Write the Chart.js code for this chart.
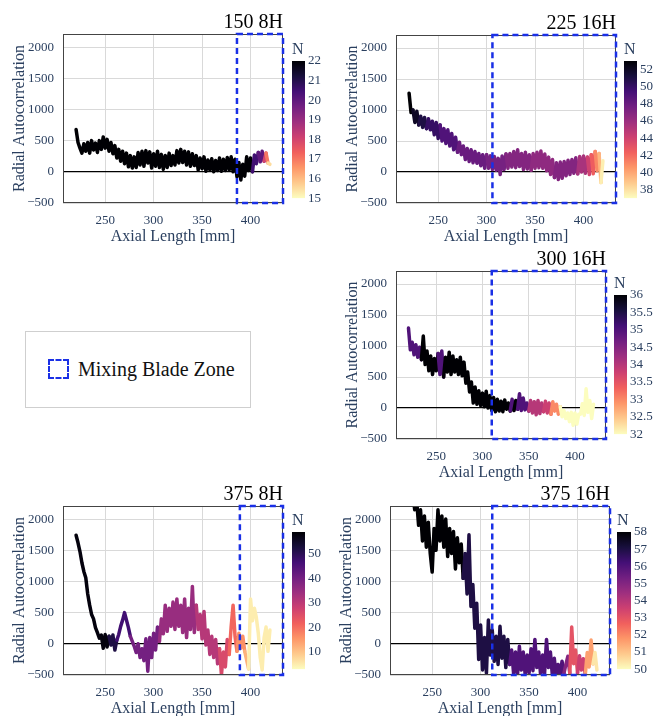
<!DOCTYPE html>
<html>
<head>
<meta charset="utf-8">
<script src="https://cdn.jsdelivr.net/npm/chart.js@4.4.1/dist/chart.umd.min.js"></script>
<style>
body{margin:0;background:#fff;width:656px;height:716px;overflow:hidden;position:relative;font-family:'Liberation Serif','Times New Roman',serif}
#legend{position:absolute;left:25px;top:331px;width:224px;height:75px;border:1px solid #cfcfcf;background:#fff}
#swatch{position:absolute;left:22px;top:27px;width:17px;height:16px;border:2px dashed #1a30e6}
#legendText{position:absolute;left:52px;top:25px;font-size:20px;line-height:24px;color:#111;white-space:nowrap}
</style>
</head>
<body>

<div id="legend"><span id="swatch"></span><span id="legendText">Mixing Blade Zone</span></div>

<script>

// axial sample positions [mm], shared by every run
const axial=[220,222,224,226,228,230,232,234,236,238,
240,242,244,246,248,250,252,254,256,258,
260,262,264,266,268,270,272,274,276,278,
280,282,284,286,288,290,292,294,296,298,
300,302,304,306,308,310,312,314,316,318,
320,322,324,326,328,330,332,334,336,338,
340,342,344,346,348,350,352,354,356,358,
360,362,364,366,368,370,372,374,376,378,
380,382,384,386,388,390,392,394,396,398,
400,402,404,406,408,410,412,414,416,418,
420]

// radial autocorrelation per run
const corr150_8H=[680,470,380,300,450,330,470,300,500,350,
460,310,500,360,560,380,520,330,470,290,
420,220,360,170,330,130,300,80,260,60,
240,70,310,110,330,90,340,140,320,60,
290,90,330,70,280,40,260,70,300,100,
260,110,340,140,360,150,330,110,320,90,
290,100,260,30,220,50,240,10,190,30,
210,0,180,20,220,10,200,20,230,30,
240,0,200,-80,150,-130,120,-70,240,20,
220,0,270,130,310,160,330,170,300,140,
120]

const corr225_16H=[1270,960,1000,800,980,760,900,720,880,700,
860,680,820,600,800,540,760,500,700,460,
680,420,620,360,560,320,480,280,420,200,
380,170,360,150,330,140,300,100,280,60,
280,60,260,40,250,30,220,-40,260,40,
290,60,300,80,330,70,360,90,300,40,
320,50,280,30,300,60,320,70,340,60,
290,20,240,-40,200,-90,150,-120,160,-100,
170,-60,190,-40,200,-20,230,-30,250,0,
260,-20,240,-40,280,-30,330,20,300,-170,
180]

const corr300_16H=[1290,940,1060,860,1020,820,980,780,1160,700,
920,600,840,540,800,600,880,540,920,500,
820,580,900,540,840,580,780,540,820,520,
740,400,580,260,420,80,340,60,280,40,
240,20,270,0,200,-40,170,-60,140,-50,
110,-60,130,-20,80,-50,140,-40,120,-20,
230,-40,160,-30,80,-50,120,-80,100,-110,
120,-90,80,-60,110,-80,80,-100,100,-50,
60,-100,20,-140,-40,-170,-80,-220,-70,-280,
-80,-260,-100,-100,70,-120,310,-70,120,-170,
60]

const corr375_8H=[1740,1620,1480,1300,1160,1060,800,620,470,400,
260,180,90,140,-70,150,-50,120,-20,140,
-100,60,150,280,380,500,380,260,120,40,
-40,-140,0,-220,-80,-270,80,-440,100,-220,
170,-100,270,40,400,160,620,200,570,280,
670,230,720,280,620,180,720,100,570,230,
920,180,620,230,470,80,520,-20,220,-170,
120,-220,70,-320,-80,-500,-130,-370,70,-170,
270,620,120,-120,170,-70,120,-120,-260,-400,
720,370,570,420,170,-220,-420,100,270,-120,
220]

const corr375_16H=[2600,2500,2450,2500,2350,2400,2150,2300,1900,2150,
1650,2050,1550,1950,1450,1150,1850,1500,2150,1650,
2050,1550,2000,1400,1850,1450,1800,1200,1700,1300,
1600,1050,1450,800,1750,600,950,250,650,-250,
300,-420,100,-470,380,-180,220,-280,120,-330,
280,-230,120,-380,70,-330,-100,-470,-130,-520,
-40,-420,-130,-500,-180,-470,-80,-430,70,-380,
-130,-520,-180,-470,70,-380,-130,-500,-230,-520,
-330,-500,-280,-470,-330,-200,-470,270,-320,-100,
-470,-190,-420,-240,-500,-140,-370,60,-320,-140,
-420]

// N along the axis: [axial position where it starts, N]
const n150_8H=[[220,22],[402,20.5],[408,20],[414,18],[416,17],[418,15.5]]
const n225_16H=[[220,53],[224,52],[230,51],[238,50],[252,49],[270,48],[300,47.5],[320,47],[345,46.5],[370,47],[394,45.5],[403,44],[408,42.5],[412,41],[415,39.5],[417,37.5]]
const n300_16H=[[220,35],[234,36],[252,35],[258,36],[329,35],[334,36],[338,35],[349,34],[365,33.8],[374,33],[383,32]]
const n375_8H=[[220,58],[254,52],[261,47],[276,40],[306,35],[344,31],[368,26],[377,21],[385,16],[394,12],[398,5]]
const n375_16H=[[220,58],[281,57],[330,56],[386,55],[391,53],[399,53.6],[408,51.6],[415,50.4]]

// colour bar ranges and ticks
const nRange=[[15,22],[37,53],[32,36],[3,59],[50,58]]
const nTicks150_8H=[15,16,17,18,19,20,21,22]
const nTicks225_16H=[38,40,42,44,46,48,50,52]
const nTicks300_16H=[32,32.5,33,33.5,34,34.5,35,35.5,36]
const nTicks375_8H=[10,20,30,40,50]
const nTicks375_16H=[50,51,52,53,54,55,56,57,58]

// start of the mixing blade zone [mm]
const zoneStart=[386,306,310,389,312]

const xTicks=[250,300,350,400]
const yTicks=[-500,0,500,1000,1500,2000]


const serif="'Liberation Serif','Times New Roman',serif"
const axisInk="#2a3f5f"
const gridInk="#d9d9d9"
const magma=["#000004","#180f3d","#440f76","#721f81","#9e2f7f","#cd4071","#f1605d","#fd9668","#feca8d","#fcfdbf"]

Chart.defaults.font.family=serif


function hexRgb(h){
return [1,3,5].map(i=>parseInt(h.slice(i,i+2),16))
}

// f=0 gives black (largest N), f=1 gives pale yellow (smallest N)
function magmaAt(f){
f=Math.max(0,Math.min(1,f))
const p=f*(magma.length-1)
const i=Math.min(Math.floor(p),magma.length-2)
const t=p-i
const a=hexRgb(magma[i]),b=hexRgb(magma[i+1])
const c=a.map((v,k)=>Math.round(v+(b[k]-v)*t))
return `rgb(${c[0]},${c[1]},${c[2]})`
}

function colorForN(steps,range,x){
let n=steps[0][1]
steps.forEach(s=>{ if(x>=s[0]) n=s[1] })
return magmaAt((range[1]-n)/(range[1]-range[0]))
}

function addCanvas(left,top,w,h){
const c=document.createElement("canvas")
c.width=w
c.height=h
c.style.cssText=`position:absolute;left:${left}px;top:${top}px;width:${w}px;height:${h}px`
document.body.appendChild(c)
return c
}


// plot frame + dashed blade zone
const panelChrome={
id:"panelChrome",
afterDatasetsDraw(chart,args,opts){
const a=chart.chartArea
const ctx=chart.ctx
ctx.save()
ctx.strokeStyle="#444"
ctx.lineWidth=1
ctx.strokeRect(a.left+0.5,a.top+0.5,a.width-1,a.height-1)
const x1=chart.scales.x.getPixelForValue(opts.zone)
ctx.strokeStyle="#1a30e6"
ctx.lineWidth=2.5
ctx.setLineDash([6,4])
ctx.strokeRect(x1,a.top,a.right-x1,a.bottom-a.top)
ctx.restore()
}
}


function drawPanel(p){

const cv=addCanvas(p.left-63,p.top-34,p.right-p.left+65,p.bottom-p.top+79)

new Chart(cv,{

type:"line",

data:{
datasets:[{
data:axial.map((x,i)=>({x:x,y:p.corr[i]})),
borderColor:"#000",
borderWidth:3.5,
pointRadius:0,
borderJoinStyle:"round",
borderCapStyle:"round",
clip:0,
segment:{
borderColor:ctx=>colorForN(p.steps,p.range,ctx.p0.parsed.x)
}
}]
},

options:{
responsive:false,
animation:false,
layout:{padding:{left:0,right:2,top:0,bottom:0}},
plugins:{
legend:{display:false},
tooltip:{enabled:false},
title:{
display:true,
text:p.title,
align:"end",
fullSize:false,
color:"#000",
font:{family:serif,size:20,weight:"normal",lineHeight:1},
padding:{top:13,bottom:1}
},
panelChrome:{zone:p.zone}
},
scales:{
x:{
type:"linear",
min:206.5,
max:433.5,
afterFit:s=>{s.height=45},
afterBuildTicks:s=>{s.ticks=xTicks.map(v=>({value:v}))},
grid:{color:gridInk,drawTicks:false},
border:{display:false},
ticks:{padding:10,color:axisInk,font:{size:13},autoSkip:false},
title:{display:true,text:"Axial Length [mm]",color:axisInk,font:{size:16},padding:{top:0,bottom:2}}
},
y:{
min:-500,
max:2210,
afterFit:s=>{s.width=63},
afterBuildTicks:s=>{s.ticks=yTicks.map(v=>({value:v}))},
grid:{
color:c=>c.tick&&c.tick.value===0?"#000":gridInk,
lineWidth:c=>c.tick&&c.tick.value===0?1.3:1,
drawTicks:false
},
border:{display:false},
ticks:{
padding:9,
color:axisInk,
font:{size:13},
autoSkip:false,
callback:v=>v<0?"\u2212"+(-v):String(v)
},
title:{display:true,text:"Radial Autocorrelation",color:axisInk,font:{size:16},padding:{top:10,bottom:0}}
}
}
},

plugins:[panelChrome]

})

}


function drawColorbar(b){

const room=38,head=26,foot=10
const cv=addCanvas(b.left,b.top-head,b.width+room,b.height+head+foot)

new Chart(cv,{

type:"bar",

data:{
labels:["N"],
datasets:[{
data:[[b.range[0],b.range[1]]],
barPercentage:1,
categoryPercentage:1,
borderWidth:0,
backgroundColor:ctx=>{
const a=ctx.chart.chartArea
if(!a) return "#000"
const g=ctx.chart.ctx.createLinearGradient(0,a.top,0,a.bottom)
magma.forEach((c,i)=>g.addColorStop(i/(magma.length-1),c))
return g
}
}]
},

options:{
responsive:false,
animation:false,
layout:{padding:0},
plugins:{
legend:{display:false},
tooltip:{enabled:false},
title:{
display:true,
text:"N",
align:"start",
fullSize:false,
color:axisInk,
font:{family:serif,size:16,weight:"normal",lineHeight:1},
padding:{top:7,bottom:3}
}
},
scales:{
x:{display:false},
y:{
position:"right",
min:b.range[0],
max:b.range[1],
afterFit:s=>{s.width=room},
afterBuildTicks:s=>{s.ticks=b.ticks.map(v=>({value:v}))},
grid:{display:false,drawTicks:false},
border:{display:false},
ticks:{padding:3,color:axisInk,font:{size:13},autoSkip:false,callback:v=>String(v)}
}
}
}

})

}


const panels=[
{title:"150 8H",corr:corr150_8H,steps:n150_8H,range:nRange[0],zone:zoneStart[0],left:63,top:34,right:283,bottom:203,
bar:{left:292,top:61,width:13,height:138,range:nRange[0],ticks:nTicks150_8H}},
{title:"225 16H",corr:corr225_16H,steps:n225_16H,range:nRange[1],zone:zoneStart[1],left:396,top:35,right:616,bottom:203,
bar:{left:624,top:61,width:13,height:138,range:nRange[1],ticks:nTicks225_16H}},
{title:"300 16H",corr:corr300_16H,steps:n300_16H,range:nRange[2],zone:zoneStart[2],left:396,top:271,right:606,bottom:439,
bar:{left:614,top:295,width:13,height:140,range:nRange[2],ticks:nTicks300_16H}},
{title:"375 8H",corr:corr375_8H,steps:n375_8H,range:nRange[3],zone:zoneStart[3],left:63,top:506,right:283,bottom:675,
bar:{left:292,top:532,width:13,height:138,range:nRange[3],ticks:nTicks375_8H}},
{title:"375 16H",corr:corr375_16H,steps:n375_16H,range:nRange[4],zone:zoneStart[4],left:390,top:506,right:610,bottom:675,
bar:{left:617,top:532,width:14,height:138,range:nRange[4],ticks:nTicks375_16H}}
]

panels.forEach(p=>{
drawPanel(p)
drawColorbar(p.bar)
})

</script>
</body>
</html>
